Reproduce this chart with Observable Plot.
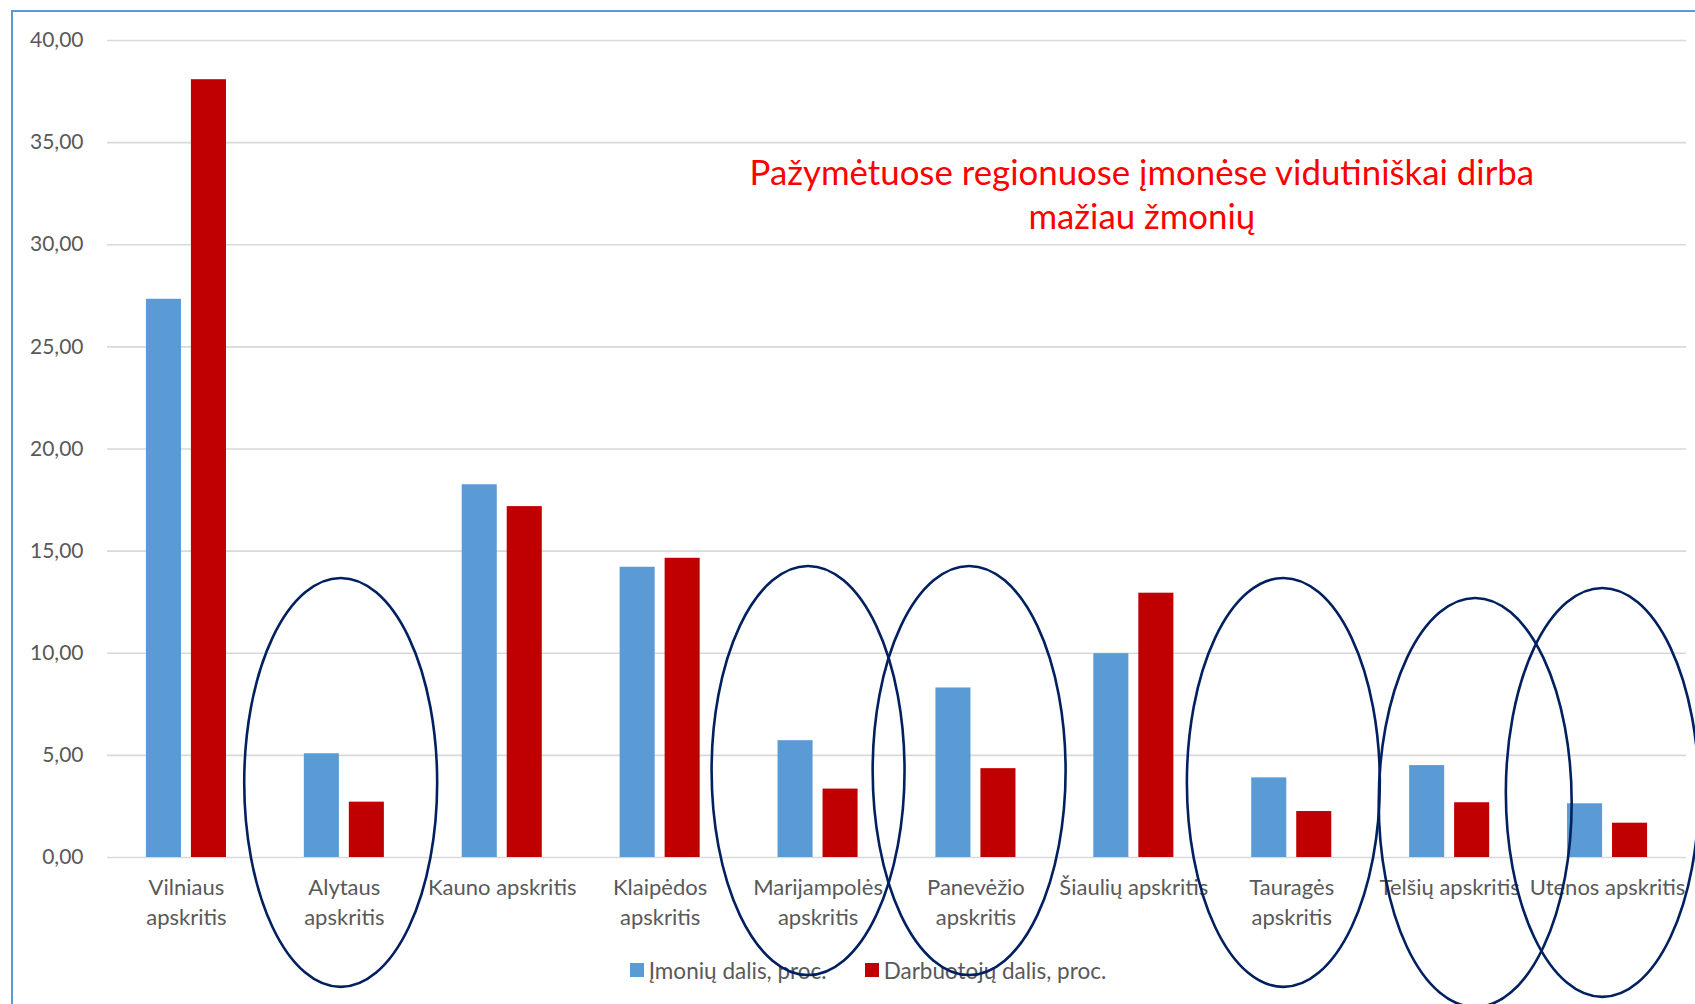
<!DOCTYPE html>
<html>
<head>
<meta charset="utf-8">
<script src="https://cdn.jsdelivr.net/npm/d3@7"></script>
<script src="https://cdn.jsdelivr.net/npm/@observablehq/plot@0.6"></script>
<style>
  html, body { margin: 0; padding: 0; background: #fff; overflow: hidden; }
  #wrap { position: relative; width: 1695px; height: 1004px; overflow: hidden; font-family: Lato, sans-serif; }
  #frame { position: absolute; left: 11px; top: 10px; width: 3000px; height: 3000px; border: 2px solid #5B9BD5; box-sizing: border-box; pointer-events: none; z-index: 3; }
  #chart { position: absolute; left: 0; top: 0; z-index: 2; }
  #legend { position: absolute; left: 0; top: 953px; width: 1736px; height: 34px; display: flex; justify-content: center; align-items: center; font-size: 22.5px; color: #595959; z-index: 1; }
  #legend .item { display: flex; align-items: center; margin: 0 19px; }
  #legend .sw { width: 14px; height: 14px; margin-right: 5px; display: inline-block; }
</style>
</head>
<body>
<div id="wrap">
  <div id="chart"></div>
  <div id="legend"></div>
  <div id="frame"></div>
</div>
<script>
// ---- data ----
const regions = ["Vilniaus apskritis", "Alytaus apskritis", "Kauno apskritis", "Klaipėdos apskritis", "Marijampolės apskritis", "Panevėžio apskritis", "Šiaulių apskritis", "Tauragės apskritis", "Telšių apskritis", "Utenos apskritis"];
const tickLabels = ["Vilniaus\napskritis", "Alytaus\napskritis", "Kauno apskritis", "Klaipėdos\napskritis", "Marijampolės\napskritis", "Panevėžio\napskritis", "Šiaulių apskritis", "Tauragės\napskritis", "Telšių apskritis", "Utenos apskritis"];
const seriesNames = ["Įmonių dalis, proc.", "Darbuotojų dalis, proc."];
const imoniuDalis = [27.33, 5.08, 18.25, 14.21, 5.72, 8.30, 9.98, 3.90, 4.50, 2.63];
const darbuotojuDalis = [38.08, 2.71, 17.18, 14.65, 3.35, 4.35, 12.94, 2.25, 2.68, 1.68];
const yTicks = [0, 5, 10, 15, 20, 25, 30, 35, 40];
const annotation = ["Pažymėtuose regionuose įmonėse vidutiniškai dirba\nmažiau žmonių"];
const annotationRegion = "Šiaulių apskritis";
const annotationValue = 32.55;
const highlighted = ["Alytaus apskritis", "Marijampolės apskritis", "Panevėžio apskritis", "Tauragės apskritis", "Telšių apskritis", "Utenos apskritis"];
const ellipseTop = [13.66, 14.25, 14.25, 13.66, 12.68, 13.17];
const ellipseBottom = [-6.36, -5.78, -5.78, -6.36, -7.34, -6.85];

// ---- styles ----
const colors = ["#5B9BD5", "#C00000"];
const ellipseNudge = [-0.02, -0.06, -0.04, -0.05, 0.165, -0.03]; // fraction of band step
const ellipseRx = 0.611; // fraction of band step

const rows = regions.flatMap((r, i) => [
  {region: r, series: seriesNames[0], value: imoniuDalis[i]},
  {region: r, series: seriesNames[1], value: darbuotojuDalis[i]}
]);

const plot = Plot.plot({
  width: 1695,
  height: 945,
  marginTop: 40,
  marginLeft: 107,
  marginRight: 9,
  marginBottom: 88,
  style: {fontFamily: "Lato, sans-serif", background: "transparent", overflow: "visible"},
  x: {type: "band", domain: regions, paddingInner: 0.778, paddingOuter: 0.389, align: 0.5, round: false},
  y: {domain: [0, 40]},
  color: {domain: seriesNames, range: colors},
  marks: [
    Plot.gridY(yTicks, {stroke: "#D9D9D9", strokeOpacity: 1, strokeWidth: 1.6}),
    Plot.barY(rows.filter(d => d.series === seriesNames[0]), {x: "region", y: "value", fill: "series", dx: -22.5}),
    Plot.barY(rows.filter(d => d.series === seriesNames[1]), {x: "region", y: "value", fill: "series", dx: 22.5}),
    Plot.axisY(yTicks, {tickSize: 0, tickPadding: 24, tickFormat: d => d.toFixed(2).replace(".", ","), fontSize: 21, fill: "#595959", label: null}),
    Plot.axisX({tickSize: 0, tickPadding: 16.5, tickFormat: d => tickLabels[regions.indexOf(d)], fontSize: 22, fill: "#595959", lineHeight: 1.365, label: null}),
    Plot.text(annotation, {x: () => annotationRegion, y: () => annotationValue, text: d => d, dx: 8, fill: "#FF0000", fontSize: 34.8, lineHeight: 1.264, textAnchor: "middle", lineAnchor: "middle"})
  ]
});

// ellipses around highlighted regions, placed through Plot's scales
const xs = plot.scale("x"), ys = plot.scale("y");
const step = xs.step || (xs.range[1] - xs.range[0]) / regions.length;
const bw = xs.bandwidth || 0;
const g = d3.select(plot).append("g").attr("fill", "none").attr("stroke", "#002060").attr("stroke-width", 2.6);
highlighted.forEach((r, i) => {
  const cx = xs.apply(r) + bw / 2 + ellipseNudge[i] * step;
  const yt = ys.apply(ellipseTop[i]), yb = ys.apply(ellipseBottom[i]);
  g.append("ellipse").attr("cx", cx).attr("cy", (yt + yb) / 2).attr("rx", ellipseRx * step).attr("ry", (yb - yt) / 2);
});

document.getElementById("chart").appendChild(plot);

// legend
const legend = d3.select("#legend");
seriesNames.forEach((s, i) => {
  const item = legend.append("div").attr("class", "item");
  item.append("span").attr("class", "sw").style("background", colors[i]);
  item.append("span").text(s);
});
</script>
</body>
</html>
